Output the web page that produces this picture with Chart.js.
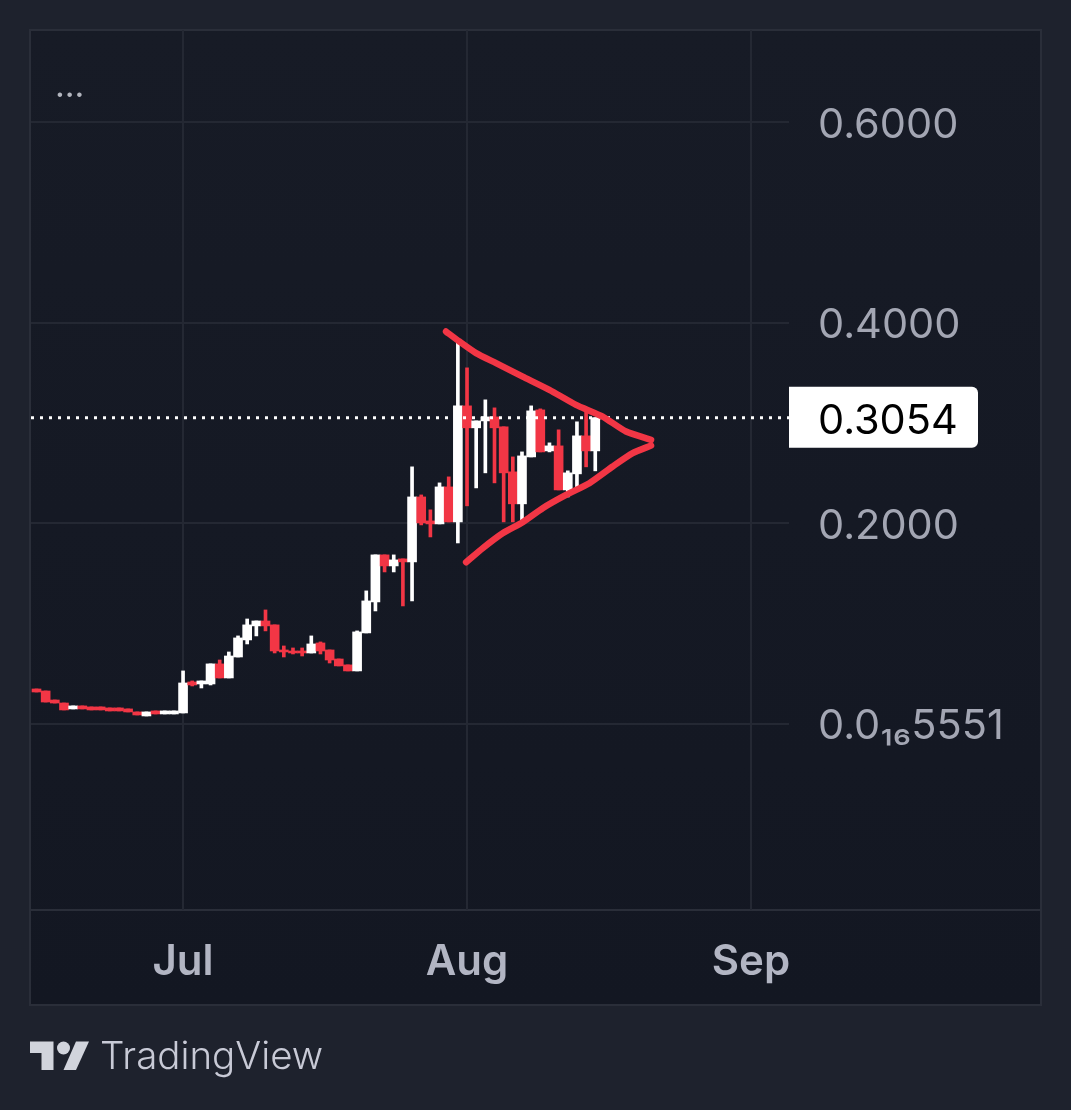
<!DOCTYPE html>
<html>
<head>
<meta charset="utf-8">
<style>
  html, body { margin: 0; padding: 0; background: #1e222d; }
  canvas { display: block; }
</style>
<script src="https://cdn.jsdelivr.net/npm/chart.js@4/dist/chart.umd.min.js"></script>
</head>
<body>
<canvas id="chart" width="1071" height="1110"></canvas>
<script>
// days counted from Jul 1
const days = [-16,-15,-14,-13,-12,-11,-10,-9,-8,-7,-6,-5,-4,-3,-2,-1,
  0,1,2,3,4,5,6,7,8,9,10,11,12,13,14,15,16,17,18,19,20,21,22,23,24,25,26,27,28,29,
  30,31,32,33,34,35,36,37,38,39,40,41,42,43,44,45];
const opens = [.0349,.0329,.0239,.0209,.0150,.0180,.0170,.0170,.0160,.0160,.0150,.0120,.0080,.0130,.0100,.0100,
  .0110,.0419,.0399,.0399,.0599,.0459,.0668,.0838,.0978,.1027,.0988,.0738,.0728,.0728,.0708,.0808,.0738,.0648,.0589,.0529,
  .0908,.1217,.1686,.1576,.1646,.1616,.2264,.2025,.1995,.2364,
  .2015,.3172,.2953,.3022,.3062,.2963,.2514,.2195,.2663,.3132,.2723,.2773,.2334,.2494,.2873,.2723];
const closes = [.0319,.0219,.0209,.0140,.0180,.0150,.0140,.0140,.0130,.0130,.0120,.0090,.0120,.0100,.0130,.0130,
  .0409,.0389,.0429,.0599,.0459,.0678,.0858,.0988,.1027,.0978,.0728,.0718,.0708,.0708,.0798,.0728,.0638,.0579,.0529,.0918,
  .1227,.1686,.1576,.1636,.1616,.2264,.2005,.1995,.2364,.2015,
  .3172,.2953,.3022,.3062,.2953,.2504,.2195,.2673,.3122,.2713,.2773,.2334,.2504,.2873,.2723,.3054];
const highs = [.0349,.0329,.0239,.0209,.0180,.0180,.0170,.0170,.0160,.0160,.0150,.0120,.0120,.0130,.0130,.0130,
  .0529,.0429,.0429,.0599,.0638,.0718,.0878,.1047,.1027,.1137,.0988,.0778,.0758,.0758,.0878,.0818,.0738,.0648,.0589,.0928,
  .1327,.1686,.1686,.1686,.1646,.2564,.2284,.2135,.2404,.2464,
  .3820,.3551,.3022,.3232,.3152,.2963,.2663,.2713,.3172,.3142,.2803,.2933,.2524,.3013,.3112,.3054];
const lows = [.0319,.0219,.0209,.0140,.0150,.0150,.0140,.0140,.0130,.0130,.0120,.0090,.0080,.0100,.0100,.0100,
  .0110,.0379,.0359,.0389,.0459,.0459,.0668,.0798,.0878,.0928,.0708,.0668,.0698,.0678,.0708,.0698,.0608,.0579,.0529,.0529,
  .0908,.1127,.1516,.1516,.1177,.1227,.1985,.1865,.1995,.2015,
  .1805,.2175,.2354,.2504,.2404,.2015,.2015,.2035,.2663,.2713,.2713,.2334,.2264,.2354,.2564,.2524];

const lastPrice = 0.3054;
const lastPriceLabel = "0.3054";
const priceTicks = [5.551e-17, 0.2, 0.4, 0.6];
const priceLabels = ["0.0₁₆5551", "0.2000", "0.4000", "0.6000"];
const monthTicks = [0, 31, 62];
const monthLabels = ["Jul", "Aug", "Sep"];

// hand drawn triangle on top of the candles
const upperX = [28.71,30.16,31.99,34.17,37.08,39.99,42.9,45.81,48.36,51.09];
const upperY = [.3913,.3814,.3698,.3598,.3464,.3332,.3182,.3065,.2916,.2833];
const lowerX = [30.9,32.71,34.89,37.08,39.26,41.81,44.36,46.9,49.08,51.09];
const lowerY = [.1613,.1753,.1902,.2012,.2152,.2284,.2401,.2567,.27,.2776];

const UP = "#ffffff";
const DOWN = "#f23645";
const GRID = "#242833";
const BORDER = "#2a2e39";
const FONT = "Inter, 'Noto Sans', sans-serif";

const candleColors = opens.map((o, i) => (closes[i] >= o ? UP : DOWN));
const xMin = -16.6, xMax = 66.15;

function trace(xs, ys) {
  return {
    type: "line",
    data: xs.map((x, i) => ({ x: x, y: ys[i] })),
    borderColor: DOWN,
    borderWidth: 6.5,
    borderCapStyle: "round",
    borderJoinStyle: "round",
    tension: 0.2,
    pointRadius: 0,
    order: 0,
  };
}

const panel = {
  id: "panel",
  beforeDraw(chart) {
    const c = chart.ctx;
    c.save();
    c.fillStyle = "#1e222d";
    c.fillRect(0, 0, 1071, 1110);
    const g = c.createLinearGradient(0, 30, 0, 1005);
    g.addColorStop(0, "#171b26");
    g.addColorStop(1, "#131722");
    c.fillStyle = g;
    c.fillRect(30, 30, 1011, 975);
    c.strokeStyle = BORDER;
    c.lineWidth = 2;
    c.strokeRect(30, 30, 1011, 975);
    c.beginPath();
    c.moveTo(30, 910);
    c.lineTo(1041, 910);
    c.stroke();
    c.restore();
  },
  afterDraw(chart) {
    const c = chart.ctx;
    const y = chart.scales.y.getPixelForValue(lastPrice);
    c.save();
    c.fillStyle = "#ffffff";
    c.beginPath();
    c.roundRect(789, y - 31, 189, 61, [0, 6, 6, 0]);
    c.fill();
    c.fillStyle = "#000000";
    c.font = "41.5px " + FONT;
    c.textAlign = "left";
    c.textBaseline = "middle";
    c.fillText(lastPriceLabel, 818, y + 4);

    c.fillStyle = "#b2b5be";
    c.font = "34px " + FONT;
    c.fillText("...", 55, 87);

    // TradingView logo
    c.fillStyle = "#d1d4dc";
    c.beginPath();
    c.moveTo(30, 1041.5); c.lineTo(53.5, 1041.5); c.lineTo(53.5, 1070); c.lineTo(41.5, 1070);
    c.lineTo(41.5, 1053); c.lineTo(30, 1053); c.closePath();
    c.fill();
    c.beginPath();
    c.arc(63.5, 1048, 6.5, 0, Math.PI * 2);
    c.fill();
    c.beginPath();
    c.moveTo(76, 1041.5); c.lineTo(89, 1041.5); c.lineTo(76, 1070); c.lineTo(63.5, 1070);
    c.closePath();
    c.fill();
    c.fillStyle = "#c8cad6";
    c.font = "300 38.5px " + FONT;
    c.textBaseline = "alphabetic";
    c.fillText("TradingView", 100, 1069);
    c.restore();
  },
};

new Chart(document.getElementById("chart"), {
  type: "bar",
  data: {
    datasets: [
      trace(upperX, upperY),
      trace(lowerX, lowerY),
      {
        type: "line",
        data: [{ x: xMin, y: lastPrice }, { x: xMax, y: lastPrice }],
        borderColor: "#ffffff",
        borderWidth: 3,
        borderDash: [3, 6],
        pointRadius: 0,
        order: 1,
      },
      {
        data: days.map((d, i) => ({ x: d, y: [opens[i], closes[i]] })),
        backgroundColor: candleColors,
        barThickness: 9,
        grouped: false,
        order: 2,
      },
      {
        data: days.map((d, i) => ({ x: d, y: [lows[i], highs[i]] })),
        backgroundColor: candleColors,
        barThickness: 3,
        grouped: false,
        order: 3,
      },
    ],
  },
  options: {
    responsive: false,
    animation: false,
    devicePixelRatio: 1,
    layout: { padding: { left: 31, top: 30, right: 0, bottom: 0 } },
    plugins: { legend: { display: false }, tooltip: { enabled: false } },
    scales: {
      x: {
        type: "linear",
        min: xMin,
        max: xMax,
        offset: false,
        afterBuildTicks(s) { s.ticks = monthTicks.map((v) => ({ value: v })); },
        afterFit(s) { s.height = 200; s.paddingLeft = 0; s.paddingRight = 0; },
        grid: { color: GRID, lineWidth: 2, drawTicks: false, offset: false },
        border: { display: false },
        ticks: {
          autoSkip: false,
          maxRotation: 0,
          padding: 27,
          color: "#b2b5c3",
          font: { family: FONT, size: 42, weight: "600" },
          callback: (v) => monthLabels[monthTicks.indexOf(v)],
        },
      },
      y: {
        type: "linear",
        position: "right",
        min: -0.1855,
        max: 0.692,
        afterBuildTicks(s) { s.ticks = priceTicks.map((v) => ({ value: v })); },
        afterFit(s) { s.width = 282; s.paddingTop = 0; s.paddingBottom = 0; },
        grid: { color: GRID, lineWidth: 2, drawTicks: false },
        border: { display: false },
        ticks: {
          autoSkip: false,
          padding: 29,
          labelOffset: 3,
          color: "#a3a6b3",
          font: { family: FONT, size: 41.5 },
          callback: (v) => priceLabels[priceTicks.indexOf(v)],
        },
      },
    },
  },
  plugins: [panel],
});
</script>
</body>
</html>
